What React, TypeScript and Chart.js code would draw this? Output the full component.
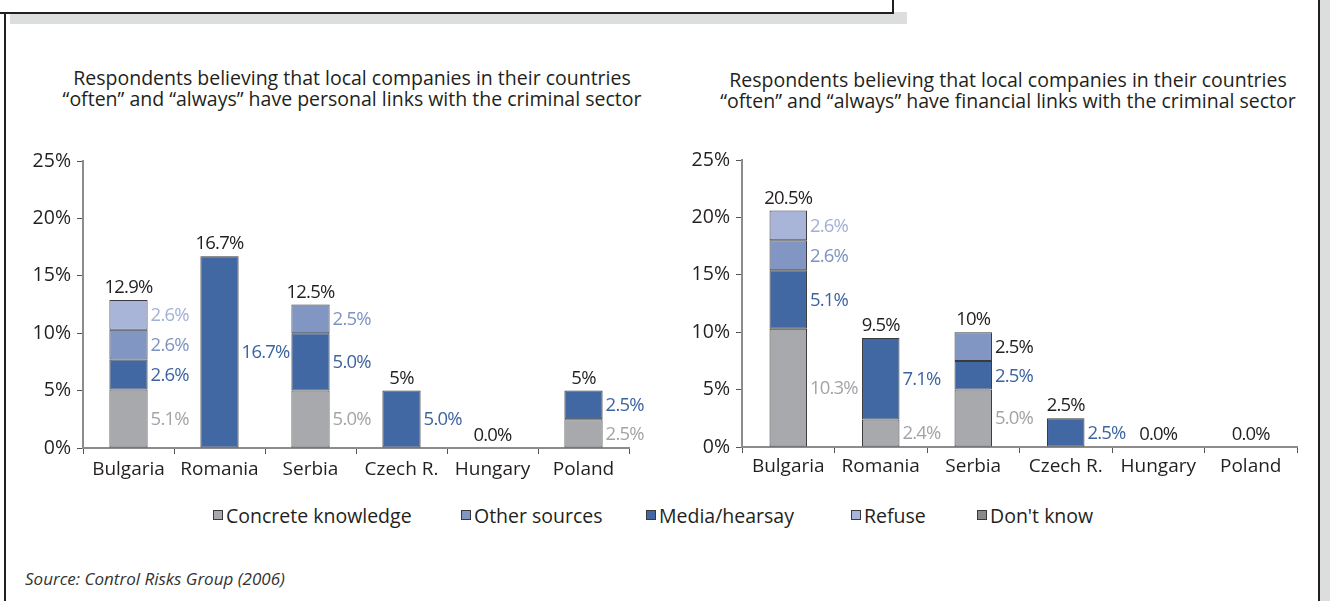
import React, { useEffect, useRef } from "react";
import { Chart, registerables } from "chart.js";

Chart.register(...registerables);

// ---------- data ----------
const categories = ["Bulgaria", "Romania", "Serbia", "Czech R.", "Hungary", "Poland"];
const seriesNames = ["Concrete knowledge", "Other sources", "Media/hearsay", "Refuse", "Don't know"];

// personal links (left chart)
const personalConcrete = [5.1, 0, 5.0, 0, 0, 2.5];
const personalMedia = [2.6, 16.7, 5.0, 5.0, 0, 2.5];
const personalOther = [2.6, 0, 2.5, 0, 0, 0];
const personalRefuse = [2.6, 0, 0, 0, 0, 0];
const personalDontKnow = [0, 0, 0, 0, 0, 0];
const personalTotals = ["12.9%", "16.7%", "12.5%", "5%", "0.0%", "5%"];

// financial links (right chart)
const financialConcrete = [10.3, 2.4, 5.0, 0, 0, 0];
const financialMedia = [5.1, 7.1, 2.5, 2.5, 0, 0];
const financialOther = [2.6, 0, 2.5, 0, 0, 0];
const financialRefuse = [2.6, 0, 0, 0, 0, 0];
const financialDontKnow = [0, 0, 0, 0, 0, 0];
const financialTotals = ["20.5%", "9.5%", "10%", "2.5%", "0.0%", "0.0%"];

const yTickValues = [0, 5, 10, 15, 20, 25];

const leftTitle = [
  "Respondents believing that local companies in their countries",
  "\u201coften\u201d and \u201calways\u201d have personal links with the criminal sector",
];
const rightTitle = [
  "Respondents believing that local companies in their countries",
  "\u201coften\u201d and \u201calways\u201d have financial links with the criminal sector",
];
const sourceText = "Source: Control Risks Group (2006)";

// ---------- styles ----------
const FONT = "'Open Sans', 'Noto Sans', sans-serif";
const TEXT = "#231f20";
const FS = 19.5;
const TICK_FS = 19;
const LABEL_FS = 18.5;
const colors: Record<string, string> = {
  "Concrete knowledge": "#a7a9ac",
  "Other sources": "#8196c3",
  "Media/hearsay": "#4268a3",
  "Refuse": "#a8b4d8",
  "Don't know": "#8a8a8a",
};
const labelColors: Record<string, string> = {
  "Concrete knowledge": "#a2a4a7",
  "Other sources": "#7d93c2",
  "Media/hearsay": "#3d64a0",
  "Refuse": "#a3b0d6",
  "Don't know": "#8a8a8a",
};

type ChartSpec = {
  stacks: { name: string; values: number[] }[];
  totals: string[];
  labelOverride?: { series: string; index: number; color: string }[];
  yWidth: number;
  xHeight: number;
  xPad: number;
  padding: { top: number; right: number; left: number; bottom: number };
  barPct: number;
};

const stackLabelPlugin = {
  id: "stackLabels",
  afterDatasetsDraw(chart: any, _args: any, opts: any) {
    const ctx = chart.ctx as any;
    const spec: ChartSpec = opts.spec;
    ctx.save();
    ctx.font = `${LABEL_FS}px ${FONT}`;
    try {
      ctx.letterSpacing = "-0.8px";
    } catch (e) {}
    chart.data.datasets.forEach((ds: any, di: number) => {
      const meta = chart.getDatasetMeta(di);
      meta.data.forEach((el: any, i: number) => {
        const v = ds.data[i];
        if (!v) return;
        const p = el.getProps(["x", "y", "base", "width"], true);
        let color = labelColors[ds.label];
        (spec.labelOverride || []).forEach((o) => {
          if (o.series === ds.label && o.index === i) color = o.color;
        });
        ctx.fillStyle = color;
        ctx.textAlign = "left";
        ctx.textBaseline = "middle";
        ctx.fillText(v.toFixed(1) + "%", p.x + p.width / 2 + 3, (p.y + p.base) / 2 + 1);
      });
    });
    const xs = chart.scales.x;
    const ys = chart.scales.y;
    categories.forEach((_c, i) => {
      let sum = 0;
      chart.data.datasets.forEach((ds: any) => {
        sum += ds.data[i] || 0;
      });
      const x = xs.getPixelForValue(i);
      const y = ys.getPixelForValue(sum);
      ctx.fillStyle = TEXT;
      ctx.textAlign = "center";
      ctx.textBaseline = "alphabetic";
      ctx.fillText(spec.totals[i], x, y - 7);
    });
    ctx.restore();
  },
};

function BarChart({ spec, style }: { spec: ChartSpec; style: React.CSSProperties }) {
  const ref = useRef<HTMLCanvasElement | null>(null);
  useEffect(() => {
    if (!ref.current) return;
    const chart = new Chart(ref.current, {
      type: "bar",
      data: {
        labels: categories,
        datasets: spec.stacks.map((s) => ({
          label: s.name,
          data: s.values.map((v) => (v === 0 ? null : v)),
          backgroundColor: colors[s.name],
          borderColor: "#3a3a3c",
          borderWidth: 1,
          borderSkipped: false,
          categoryPercentage: 1,
          barPercentage: spec.barPct,
        })) as any,
      },
      options: {
        animation: false,
        responsive: false,
        maintainAspectRatio: false,
        events: [],
        layout: { padding: spec.padding },
        plugins: {
          legend: { display: false },
          tooltip: { enabled: false },
          title: { display: false },
          stackLabels: { spec },
        } as any,
        scales: {
          x: {
            stacked: true,
            afterFit: (s: any) => {
              s.height = spec.xHeight;
            },
            grid: {
              display: true,
              offset: true,
              drawOnChartArea: false,
              drawTicks: true,
              tickLength: 6,
              tickColor: "#555555",
              tickWidth: 1,
            },
            border: { display: true, color: "#8c8c8c", width: 2 },
            ticks: {
              color: TEXT,
              font: { family: FONT, size: TICK_FS },
              padding: spec.xPad,
              maxRotation: 0,
              autoSkip: false,
            },
          },
          y: {
            stacked: true,
            min: 0,
            max: 25,
            afterFit: (s: any) => {
              s.width = spec.yWidth;
            },
            afterBuildTicks: (s: any) => {
              s.ticks = yTickValues.map((v) => ({ value: v }));
            },
            grid: {
              display: true,
              drawOnChartArea: false,
              drawTicks: true,
              tickLength: 6,
              tickColor: "#555555",
              tickWidth: 1,
            },
            border: { display: true, color: "#8c8c8c", width: 2 },
            ticks: {
              color: TEXT,
              font: { family: FONT, size: FS },
              padding: 6,
              callback: (v: any) => v + "%",
            },
          },
        },
      },
      plugins: [stackLabelPlugin as any],
    });
    return () => chart.destroy();
  }, [spec]);
  return (
    <canvas
      ref={ref}
      width={style.width as number}
      height={style.height as number}
      style={{ position: "absolute", ...style }}
    />
  );
}

const leftSpec: ChartSpec = {
  stacks: [
    { name: "Concrete knowledge", values: personalConcrete },
    { name: "Media/hearsay", values: personalMedia },
    { name: "Other sources", values: personalOther },
    { name: "Refuse", values: personalRefuse },
    { name: "Don't know", values: personalDontKnow },
  ],
  totals: personalTotals,
  yWidth: 83,
  xHeight: 52,
  xPad: 4,
  padding: { top: 21, right: 21, left: 0, bottom: 0 },
  barPct: 0.42,
};

const rightSpec: ChartSpec = {
  stacks: [
    { name: "Concrete knowledge", values: financialConcrete },
    { name: "Media/hearsay", values: financialMedia },
    { name: "Other sources", values: financialOther },
    { name: "Refuse", values: financialRefuse },
    { name: "Don't know", values: financialDontKnow },
  ],
  totals: financialTotals,
  labelOverride: [{ series: "Other sources", index: 2, color: TEXT }],
  yWidth: 82,
  xHeight: 53,
  xPad: 2,
  padding: { top: 20, right: 33, left: 0, bottom: 0 },
  barPct: 0.405,
};

const legendX = [213, 461, 646, 851, 977];

export default function App() {
  return (
    <div
      style={{
        position: "absolute",
        left: 0,
        top: 0,
        width: 1330,
        height: 601,
        overflow: "hidden",
        background: "#ffffff",
        fontFamily: FONT,
        color: TEXT,
      }}
    >
      {/* frame */}
      <div style={{ position: "absolute", left: 10, top: 12, width: 897, height: 12, background: "#dcdddd" }} />
      <div
        style={{
          position: "absolute",
          left: -4,
          top: -4,
          width: 894,
          height: 14,
          background: "#ffffff",
          border: "2px solid #231f20",
        }}
      />
      <div style={{ position: "absolute", left: 4, top: 12, width: 2, height: 601, background: "#231f20" }} />
      <div style={{ position: "absolute", left: 1318, top: 0, width: 2, height: 601, background: "#231f20" }} />
      <div style={{ position: "absolute", left: 1320, top: 0, width: 10, height: 601, background: "#dcdddd" }} />

      {/* titles */}
      <div
        style={{
          position: "absolute",
          left: 32,
          top: 67,
          width: 640,
          textAlign: "center",
          fontSize: FS,
          lineHeight: "21px",
          whiteSpace: "nowrap",
        }}
      >
        {leftTitle.map((t, i) => (
          <div key={i}>{t}</div>
        ))}
      </div>
      <div
        style={{
          position: "absolute",
          left: 688,
          top: 69,
          width: 640,
          textAlign: "center",
          fontSize: FS,
          lineHeight: "21px",
          whiteSpace: "nowrap",
        }}
      >
        {rightTitle.map((t, i) => (
          <div key={i}>{t}</div>
        ))}
      </div>

      <BarChart spec={leftSpec} style={{ left: 0, top: 140, width: 650, height: 360 }} />
      <BarChart spec={rightSpec} style={{ left: 660, top: 140, width: 670, height: 360 }} />

      {/* legend */}
      {seriesNames.map((n, i) => (
        <div
          key={n}
          style={{
            position: "absolute",
            left: legendX[i],
            top: 503,
            height: 24,
            display: "flex",
            alignItems: "center",
            fontSize: 19.5,
            whiteSpace: "nowrap",
          }}
        >
          <span
            style={{
              display: "inline-block",
              width: 8,
              height: 8,
              background: colors[n],
              border: "1px solid #3a3a3c",
              marginRight: 3,
            }}
          />
          <span>{n}</span>
        </div>
      ))}

      {/* source */}
      <div
        style={{
          position: "absolute",
          left: 25,
          top: 567,
          fontSize: 17,
          fontStyle: "italic",
          color: "#333333",
          whiteSpace: "nowrap",
        }}
      >
        {sourceText}
      </div>
    </div>
  );
}
